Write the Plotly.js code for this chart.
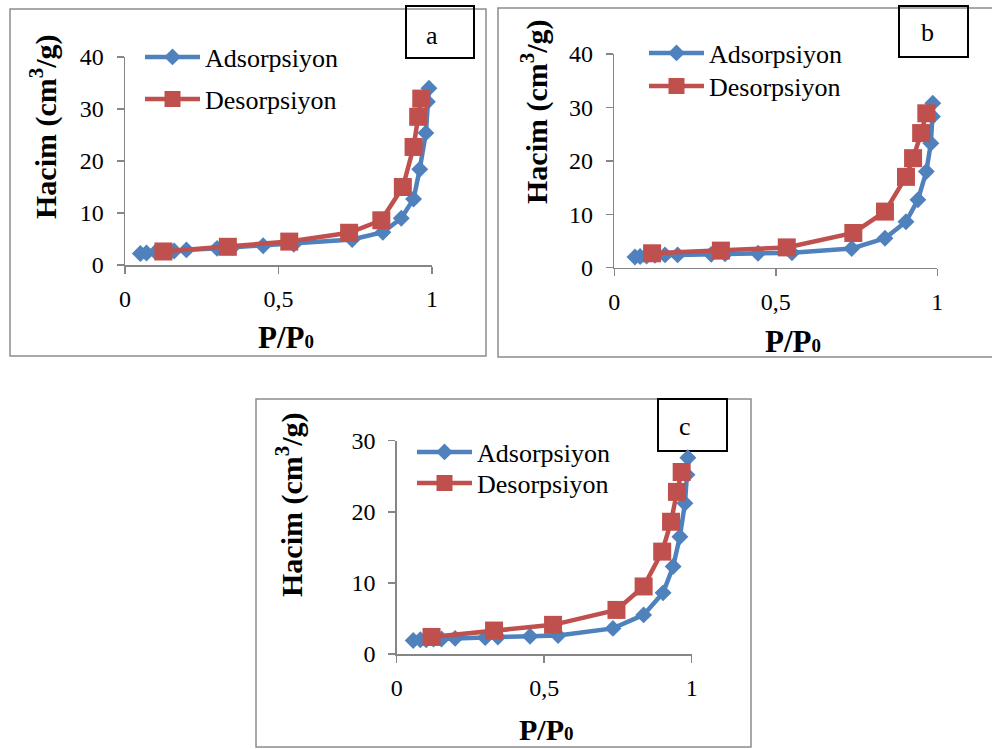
<!DOCTYPE html>
<html>
<head>
<meta charset="utf-8">
<script src="https://cdn.plot.ly/plotly-3.0.1.min.js"></script>
<style>html,body{margin:0;padding:0;background:#fff;}#chart{width:992px;height:749px;}</style>
</head>
<body>
<div id="chart"></div>
<script>
// ---------- DATA ----------
var seriesNames = ["Adsorpsiyon", "Desorpsiyon"];
var panelLabels = ["a", "b", "c"];
var xTickVals = [0, 0.5, 1];
var xTickText = ["0", "0,5", "1"];
var yTickValsAB = [0, 10, 20, 30, 40];
var yTickValsC = [0, 10, 20, 30];

// Panel a
var adsXa = [0.05, 0.07, 0.10, 0.13, 0.16, 0.20, 0.30, 0.35, 0.45, 0.55, 0.74, 0.84, 0.90, 0.94, 0.96, 0.98, 0.985, 0.99];
var adsYa = [2.2, 2.3, 2.5, 2.6, 2.7, 2.9, 3.2, 3.4, 3.7, 4.0, 4.9, 6.3, 9.0, 12.7, 18.4, 25.4, 31.4, 34.0];
var desXa = [0.125, 0.335, 0.535, 0.73, 0.835, 0.905, 0.94, 0.955, 0.965];
var desYa = [2.6, 3.5, 4.5, 6.2, 8.6, 15.0, 22.7, 28.5, 32.0];

// Panel b
var adsXb = [0.064, 0.08, 0.10, 0.126, 0.157, 0.196, 0.30, 0.343, 0.445, 0.55, 0.735, 0.838, 0.903, 0.94, 0.966, 0.98, 0.985, 0.986];
var adsYb = [2.0, 2.1, 2.2, 2.3, 2.4, 2.4, 2.5, 2.6, 2.7, 2.8, 3.6, 5.5, 8.6, 12.7, 18.0, 23.3, 28.3, 30.8];
var desXb = [0.117, 0.33, 0.534, 0.74, 0.838, 0.903, 0.925, 0.95, 0.966];
var desYb = [2.7, 3.2, 3.8, 6.5, 10.5, 17.0, 20.5, 25.2, 28.9];

// Panel c
var adsXc = [0.056, 0.08, 0.10, 0.125, 0.152, 0.198, 0.30, 0.343, 0.452, 0.547, 0.733, 0.837, 0.903, 0.937, 0.96, 0.977, 0.984, 0.987];
var adsYc = [1.9, 2.0, 2.0, 2.1, 2.1, 2.2, 2.3, 2.4, 2.5, 2.6, 3.6, 5.5, 8.6, 12.3, 16.5, 21.2, 25.2, 27.6];
var desXc = [0.118, 0.33, 0.53, 0.745, 0.837, 0.90, 0.93, 0.95, 0.966];
var desYc = [2.4, 3.3, 4.1, 6.2, 9.5, 14.4, 18.6, 22.8, 25.6];

// ---------- STYLE / LAYOUT ----------
var W = 992, H = 749;
function px(v){ return v / W; }
function py(v){ return 1 - v / H; }
var FONT = '"Liberation Serif", serif';
var BLUE = "#4F81BD", RED = "#C0504D", AXIS = "#868686";

function adsTrace(x, y, xa, ya, lg){
  return {x: x, y: y, xaxis: xa, yaxis: ya, type: "scatter", mode: "lines+markers",
    name: seriesNames[0], legend: lg, cliponaxis: false,
    line: {color: BLUE, width: 4.5},
    marker: {symbol: "diamond", size: 13, color: BLUE, line: {width: 0}}};
}
function desTrace(x, y, xa, ya, lg){
  return {x: x, y: y, xaxis: xa, yaxis: ya, type: "scatter", mode: "lines+markers",
    name: seriesNames[1], legend: lg, cliponaxis: false,
    line: {color: RED, width: 4.5},
    marker: {symbol: "square", size: 18, color: RED, line: {width: 0}}};
}

var data = [
  adsTrace(adsXa, adsYa, "x", "y", "legend"),
  desTrace(desXa, desYa, "x", "y", "legend2"),
  adsTrace(adsXb, adsYb, "x2", "y2", "legend3"),
  desTrace(desXb, desYb, "x2", "y2", "legend4"),
  adsTrace(adsXc, adsYc, "x3", "y3", "legend5"),
  desTrace(desXc, desYc, "x3", "y3", "legend6")
];

function xAxis(dom, anchor){
  return {domain: dom, anchor: anchor, range: [0, 1], tickvals: xTickVals, ticktext: xTickText,
    showline: true, linecolor: AXIS, linewidth: 1.5, ticks: "outside", ticklen: 7, tickwidth: 1.5, tickcolor: AXIS,
    showgrid: false, zeroline: false, fixedrange: true, ticklabelstandoff: 5,
    tickfont: {family: FONT, size: 24, color: "#000"}};
}
function yAxis(dom, anchor, rng, tv){
  return {domain: dom, anchor: anchor, range: rng, tickvals: tv,
    showline: true, linecolor: AXIS, linewidth: 1.5, ticks: "outside", ticklen: 7, tickwidth: 1.5, tickcolor: AXIS,
    showgrid: false, zeroline: false, fixedrange: true, ticklabelstandoff: 8,
    tickfont: {family: FONT, size: 24, color: "#000"}};
}
function legendAt(x, y){
  return {x: px(x), y: py(y), xanchor: "left", yanchor: "middle", bgcolor: "rgba(0,0,0,0)",
    borderwidth: 0, itemwidth: 55, font: {family: FONT, size: 26, color: "#000"}};
}
function rect(x0, y0, x1, y1, color, w){
  return {type: "rect", xref: "paper", yref: "paper", x0: px(x0), x1: px(x1), y0: py(y1), y1: py(y0),
    line: {color: color, width: w}, fillcolor: "rgba(0,0,0,0)", layer: "below"};
}
function ann(text, x, y, size, bold, angle){
  return {text: bold ? "<b>" + text + "</b>" : text, xref: "paper", yref: "paper", x: px(x), y: py(y),
    xanchor: "center", yanchor: "middle", showarrow: false, textangle: angle || 0,
    font: {family: FONT, size: size, color: "#000"}};
}

var yTitle = "Hacim (cm<sup>3</sup>/g)";
var xTitle = "P/P<span style='font-size:19px'>0</span>";

var layout = {
  width: W, height: H, margin: {l: 0, r: 0, t: 0, b: 0},
  paper_bgcolor: "#fff", plot_bgcolor: "rgba(0,0,0,0)", showlegend: true,
  font: {family: FONT},
  xaxis: xAxis([px(125), px(432)], "y"),
  yaxis: yAxis([py(265), py(57)], "x", [0, 40], yTickValsAB),
  xaxis2: xAxis([px(614.3), px(937.3)], "y2"),
  yaxis2: yAxis([py(267.7), py(54)], "x2", [0, 40], yTickValsAB),
  xaxis3: xAxis([px(396.7), px(691.7)], "y3"),
  yaxis3: yAxis([py(654), py(440.7)], "x3", [0, 30], yTickValsC),
  legend: legendAt(140, 57),
  legend2: legendAt(140, 99),
  legend3: legendAt(644, 53),
  legend4: legendAt(644, 86),
  legend5: legendAt(412, 452),
  legend6: legendAt(412, 483),
  shapes: [
    rect(10, 9, 486, 356, "#8c8c8c", 1.5),
    rect(498, 8, 1000, 357, "#8c8c8c", 1.5),
    rect(256, 399, 751, 747, "#8c8c8c", 1.5),
    rect(406, 6, 474, 58, "#000", 2),
    rect(899, 6, 968, 57, "#000", 2),
    rect(658, 399, 727, 451, "#000", 2)
  ],
  annotations: [
    ann(panelLabels[0], 432, 35, 26, false),
    ann(panelLabels[1], 927, 33, 26, false),
    ann(panelLabels[2], 685, 426, 26, false),
    ann(yTitle, 43, 127, 30, true, -90),
    ann(yTitle, 534, 112, 30, true, -90),
    ann(yTitle, 289, 505, 30, true, -90),
    ann(xTitle, 286, 337, 31, true),
    ann(xTitle, 793, 342, 31, true),
    ann(xTitle, 546, 729, 30, true)
  ]
};

Plotly.newPlot("chart", data, layout, {staticPlot: true, displayModeBar: false});
</script>
</body>
</html>
